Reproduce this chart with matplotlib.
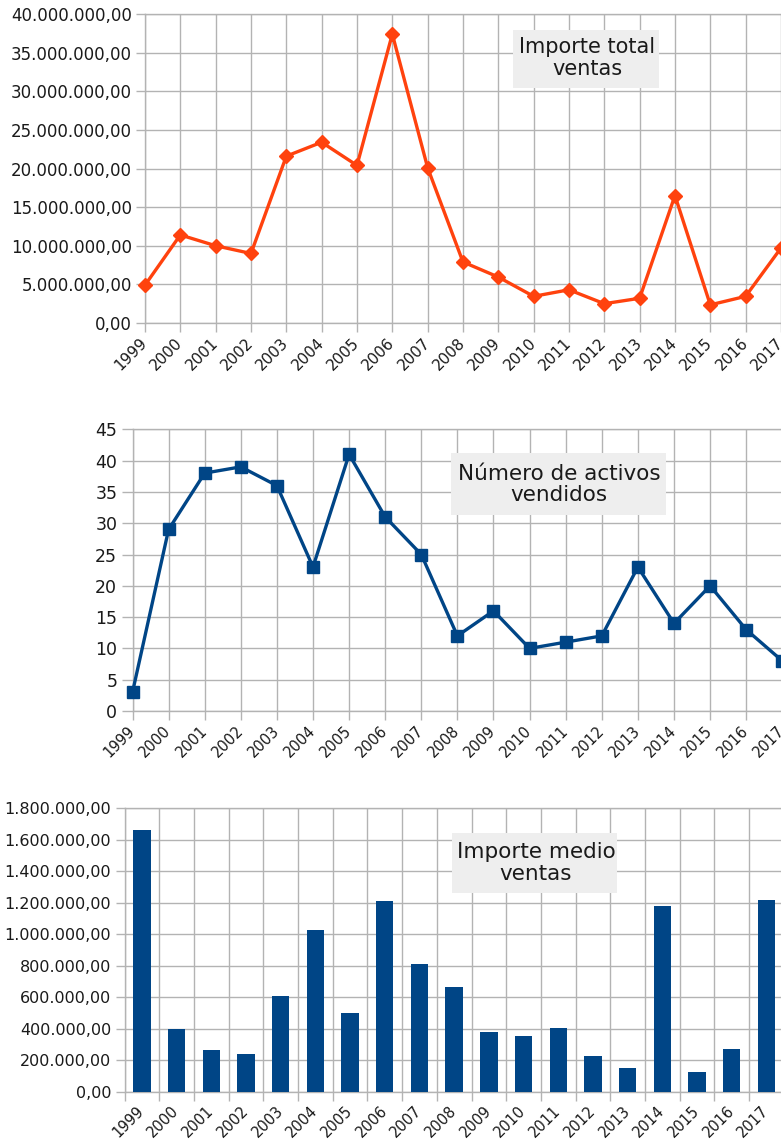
import matplotlib.pyplot as plt
from matplotlib.patches import Rectangle
from matplotlib.ticker import FuncFormatter, MultipleLocator, FixedLocator

plt.rcParams['font.family'] = ['DejaVu Sans']

years = [str(y) for y in range(1999, 2018)]

# Importe total ventas (euros)
importe_total = [4.9e6, 11.4e6, 10.0e6, 9.0e6, 21.6e6, 23.4e6, 20.4e6, 37.4e6,
                 20.1e6, 7.9e6, 5.95e6, 3.45e6, 4.3e6, 2.5e6, 3.2e6, 16.5e6,
                 2.35e6, 3.45e6, 9.7e6]

# Numero de activos vendidos
num_activos = [3, 29, 38, 39, 36, 23, 41, 31, 25, 12, 16, 10, 11, 12, 23, 14,
               20, 13, 8]

# Importe medio ventas (euros)
importe_medio = [1659e3, 400e3, 267e3, 237e3, 606e3, 1025e3, 500e3, 1210e3,
                 809e3, 663e3, 377e3, 356e3, 405e3, 229e3, 148e3, 1180e3,
                 123e3, 269e3, 1218e3]

GRID = '#b3b3b3'
TXT = '#1a1a1a'
W, H = 781, 1140


def es_fmt(v, pos):
    s = f"{v:,.2f}"
    return s.replace(',', 'X').replace('.', ',').replace('X', '.')


def style_axes(ax):
    for sp in ax.spines.values():
        sp.set_color(GRID)
        sp.set_linewidth(1.0)
    ax.grid(True, color=GRID, linewidth=1.0)
    ax.set_axisbelow(True)
    ax.tick_params(which='both', color=GRID, length=6.5, width=1.0,
                   labelcolor=TXT)


def title_box(x0, y0, x1, y1, text, cx, cy, size):
    fig.patches.append(Rectangle((x0 / W, 1 - y1 / H), (x1 - x0) / W,
                                 (y1 - y0) / H, transform=fig.transFigure,
                                 facecolor='#eeeeee', edgecolor='none',
                                 zorder=5))
    fig.text(cx / W, 1 - cy / H, text, ha='center', va='center',
             fontsize=size, color=TXT, linespacing=1.12, zorder=6)


fig = plt.figure(figsize=(7.81, 11.4), dpi=100)
x = list(range(len(years)))

# --- panel 1: importe total
ax1 = fig.add_axes([145 / W, 1 - 323 / H, 19 * 35.33 / W, 309 / H])
ax1.plot(x, importe_total, color='#ff420e', linewidth=2.4, marker='D',
         markersize=7.5, zorder=3, clip_on=False)
ax1.set_xlim(0, 19)
ax1.set_ylim(0, 40e6)
ax1.yaxis.set_major_locator(MultipleLocator(5e6))
ax1.yaxis.set_major_formatter(FuncFormatter(es_fmt))
ax1.set_xticks(x)
ax1.set_xticklabels(years, rotation=45, ha='right', va='center',
                    rotation_mode='anchor', fontsize=11)
style_axes(ax1)
ax1.tick_params(axis='y', labelsize=12, pad=3)
ax1.tick_params(axis='x', pad=6)
title_box(513, 30, 659, 88, 'Importe total\nventas', 587, 58, 15)

# --- panel 2: numero de activos
ax2 = fig.add_axes([132.5 / W, 1 - 711 / H, 19 * 36.1 / W, 281.7 / H])
ax2.plot(x, num_activos, color='#004586', linewidth=2.4, marker='s',
         markersize=9, zorder=3, clip_on=False)
ax2.set_xlim(0, 19)
ax2.set_ylim(0, 45)
ax2.yaxis.set_major_locator(MultipleLocator(5))
ax2.set_xticks(x)
ax2.set_xticklabels(years, rotation=45, ha='right', va='center',
                    rotation_mode='anchor', fontsize=10.5)
style_axes(ax2)
ax2.tick_params(axis='y', labelsize=12.5, pad=3, length=8)
ax2.tick_params(axis='x', pad=6)
title_box(451, 453, 666, 515, 'Número de activos\nvendidos', 559, 484.5, 15.5)

# --- panel 3: importe medio
ax3 = fig.add_axes([124.5 / W, 1 - 1091.7 / H, 19 * 34.7 / W, 283.4 / H])
ax3.bar(x, importe_medio, width=0.5, color='#004586', zorder=3)
ax3.set_xlim(-0.5, 18.5)
ax3.set_ylim(0, 1.8e6)
ax3.yaxis.set_major_locator(MultipleLocator(2e5))
ax3.yaxis.set_major_formatter(FuncFormatter(es_fmt))
ax3.xaxis.set_major_locator(FixedLocator([i - 0.5 for i in range(20)]))
ax3.xaxis.set_major_formatter(FuncFormatter(lambda v, p: ''))
ax3.set_xticks(x, minor=True)
ax3.set_xticklabels(years, minor=True, rotation=45, ha='right', va='center',
                    rotation_mode='anchor', fontsize=10.5)
style_axes(ax3)
ax3.tick_params(axis='x', which='minor', length=0, pad=12)
ax3.tick_params(axis='y', labelsize=11.5, pad=3)
title_box(452, 833, 617, 893, 'Importe medio\nventas', 536, 863, 15.5)

fig.savefig('out.png', dpi=100)
